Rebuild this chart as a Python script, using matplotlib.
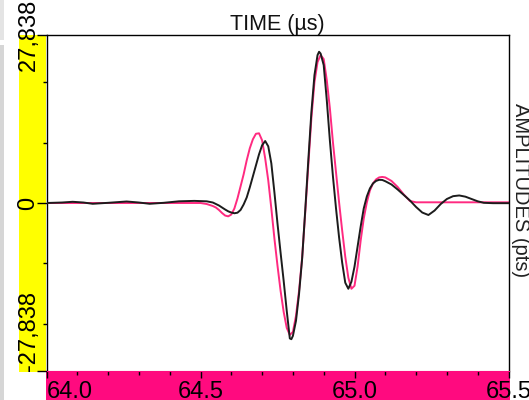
import matplotlib
matplotlib.use("Agg")
import matplotlib.pyplot as plt
from matplotlib.patches import Rectangle

# ------------------------
# Data (time in us, amplitude in pts)
# ------------------------
black_t = [64.00, 64.05, 64.085, 64.12, 64.15, 64.20, 64.26, 64.30, 64.335, 64.38,
           64.43, 64.48, 64.52, 64.54, 64.55, 64.56, 64.57, 64.58, 64.59, 64.60,
           64.61, 64.62, 64.63, 64.64, 64.65, 64.66, 64.67, 64.68, 64.69, 64.70,
           64.71, 64.72, 64.73, 64.74, 64.75, 64.76, 64.77, 64.78, 64.79, 64.795,
           64.80, 64.81, 64.82, 64.83, 64.84, 64.85, 64.86, 64.87, 64.88, 64.885,
           64.89, 64.90, 64.91, 64.92, 64.93, 64.94, 64.95, 64.96, 64.97, 64.98,
           64.99, 65.00, 65.01, 65.02, 65.03, 65.04, 65.05, 65.06, 65.07, 65.08,
           65.09, 65.10, 65.12, 65.14, 65.16, 65.18, 65.20, 65.22, 65.24, 65.26,
           65.28, 65.30, 65.32, 65.34, 65.36, 65.38, 65.40, 65.42, 65.45, 65.50]
black_a = [0, 80, 200, 80, -130, 30, 250, 80, -130, 30,
           280, 350, 280, 80, -166, -415, -750, -1080, -1380, -1580,
           -1700, -1610, -1160, -250, 910, 2580, 4400, 6230, 8060, 9560,
           10270, 9390, 6560, 1750, -3410, -8230, -12880, -17870, -22440, -22570,
           -22020, -19530, -15040, -9220, -1250, 7060, 15040, 21190, 24510, 25060,
           24760, 22850, 17040, 10390, 4400, -910, -5730, -9890, -13210, -14210,
           -13050, -10550, -7230, -3910, -910, 1080, 2410, 3240, 3660, 3840,
           3820, 3610, 3070, 2240, 1330, 415, -665, -1580, -1990, -1250,
           -166, 665, 1130, 1250, 1050, 665, 280, 30, -30, -30]

pink_t = [64.00, 64.50, 64.52, 64.54, 64.55, 64.56, 64.57, 64.58, 64.59, 64.60,
          64.61, 64.62, 64.63, 64.64, 64.65, 64.66, 64.67, 64.68, 64.69, 64.70,
          64.71, 64.72, 64.73, 64.74, 64.75, 64.76, 64.77, 64.78, 64.79, 64.80,
          64.81, 64.82, 64.83, 64.84, 64.85, 64.86, 64.87, 64.88, 64.89, 64.90,
          64.91, 64.92, 64.93, 64.94, 64.95, 64.96, 64.97, 64.98, 64.99, 65.00,
          65.01, 65.02, 65.03, 65.04, 65.05, 65.06, 65.07, 65.08, 65.09, 65.10,
          65.12, 65.14, 65.16, 65.18, 65.20, 65.50]
pink_a = [0, 0, -166, -500, -750, -1160, -1660, -2080, -2210, -1910,
          -910, 750, 2740, 4740, 7060, 9060, 10550, 11470, 11550, 10390,
          7400, 3740, -910, -5900, -10390, -14540, -18030, -20690, -21860, -21360,
          -18700, -14540, -9060, -1580, 6230, 14040, 20020, 23350, 24510, 23850,
          20360, 15710, 10060, 5070, 80, -4570, -8890, -12380, -14210, -13710,
          -10550, -6230, -2580, 80, 2080, 3240, 3910, 4240, 4320, 4240,
          3660, 2660, 1410, 330, 115, 115]

amp_max = 27838
x_major = [64.0, 64.5, 65.0, 65.5]
x_labels = ["64.0", "64.5", "65.0", "65.5"]
x_minor = [64.1, 64.2, 64.3, 64.4, 64.6, 64.7, 64.8, 64.9, 65.1, 65.2, 65.3, 65.4]
y_major = [-amp_max, 0, amp_max]
y_labels = ["-27,838", "0", "27,838"]
y_minor = [-20000, -10000, 10000, 20000]

W, H = 529, 400
PINK = "#ff0a7f"
YELLOW = "#ffff00"


def px(x, y):
    """pixel position (from top-left) -> figure fraction"""
    return x / W, 1 - y / H


def strip(fig, x0, y_bottom, w, h, color):
    fig.patches.append(Rectangle(px(x0, y_bottom), w / W, h / H,
                                 transform=fig.transFigure, fc=color, ec="none",
                                 zorder=-5))


def draw():
    plt.rcParams["font.family"] = ["Liberation Sans", "DejaVu Sans"]
    fig = plt.figure(figsize=(W / 100, H / 100), dpi=100)

    # -------------------------
    # coloured side strips + bits of window chrome
    # -------------------------
    strip(fig, 0, 400, 4, 355, "#d6d6d6")
    strip(fig, 0, 40, 4, 40, "#e4e4e4")
    strip(fig, 19, 372, 27, 337, YELLOW)
    strip(fig, 46, 400, 464, 29, PINK)

    left, bottom = px(46.5, 371)
    ax = fig.add_axes([left, bottom, 462 / W, (371 - 35) / H])

    # -------------------------
    # traces
    # -------------------------
    ax.plot(pink_t, pink_a, color="#ff2a80", lw=1.4, zorder=2)
    ax.plot(black_t, black_a, color="#1c1c1c", lw=1.4, zorder=3)

    ax.set_xlim(64.0, 65.5)
    ax.set_ylim(-amp_max, amp_max)

    for side in ("top", "left", "right"):
        ax.spines[side].set_color("black")
        ax.spines[side].set_linewidth(1.0)
    ax.spines["bottom"].set_color(PINK)

    # x axis
    ax.set_xticks(x_major, x_labels, fontsize=17)
    ax.set_xticks(x_minor, minor=True)
    ax.tick_params(axis="x", which="major", direction="out", length=5, width=1, pad=2.5)
    ax.tick_params(axis="x", which="minor", direction="out", length=3, width=1)
    ax.get_xticklabels()[0].set_ha("left")

    # y axis
    ax.set_yticks(y_major, y_labels, fontsize=17, rotation=90)
    ax.set_yticks(y_minor, minor=True)
    ax.tick_params(axis="y", which="major", direction="out", length=7, width=1, pad=-2)
    ax.tick_params(axis="y", which="minor", direction="out", length=3, width=1)
    ylabs = ax.get_yticklabels()
    ylabs[0].set_va("bottom")
    ylabs[1].set_va("center")
    ylabs[2].set_va("center")

    # -------------------------
    # axis titles
    # -------------------------
    fig.text(*px(277.5, 30), "TIME (µs)", ha="center", va="baseline",
             fontsize=15.5, color="#111111")
    fig.text(*px(520.5, 190), "AMPLITUDES (pts)", ha="center", va="center",
             rotation=270, fontsize=14.5, color="#222222")

    plt.savefig("out.png", dpi=100)


if __name__ == "__main__":
    draw()
